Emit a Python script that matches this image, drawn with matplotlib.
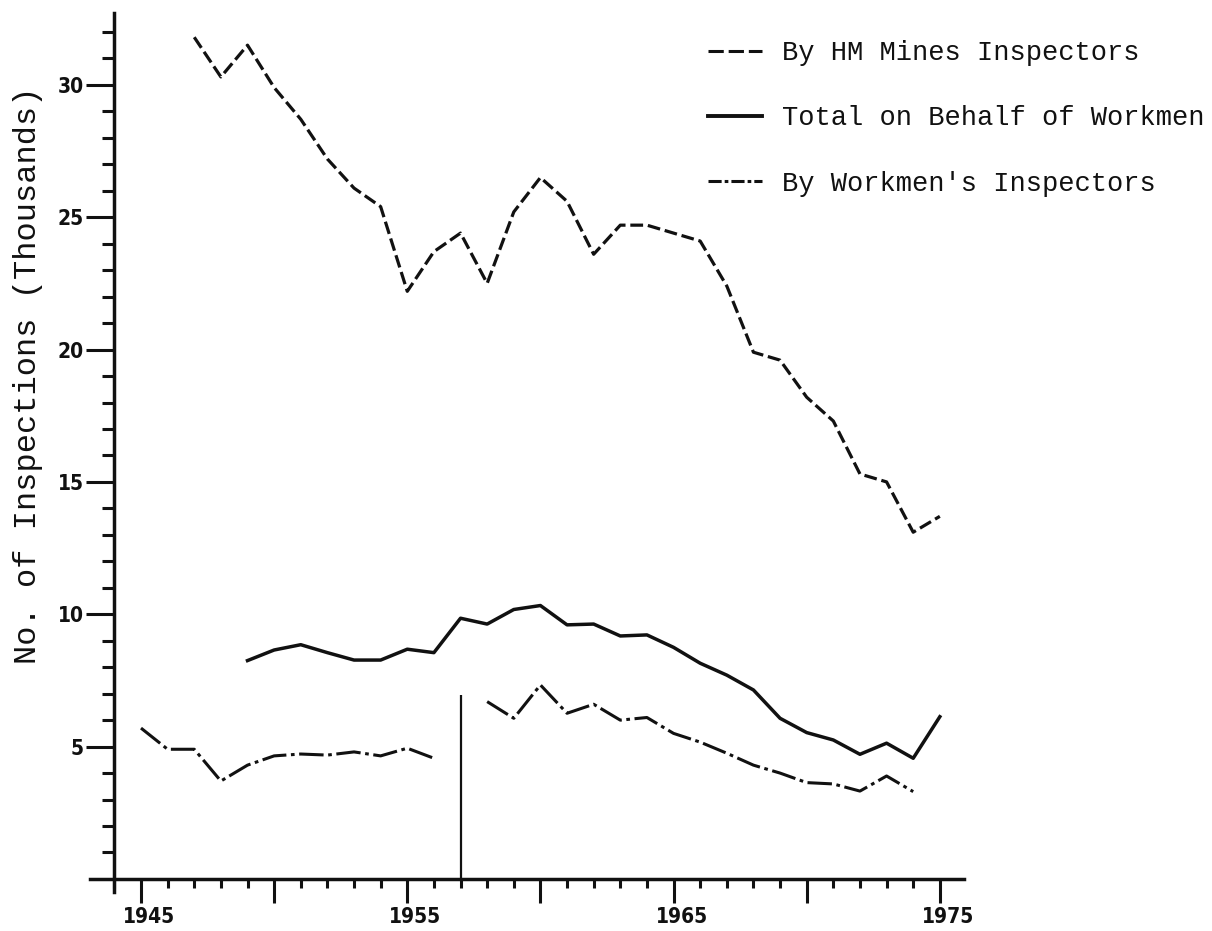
import matplotlib
matplotlib.use("Agg")
import numpy as np
import matplotlib.pyplot as plt
import matplotlib.transforms as mtransforms
from matplotlib.lines import Line2D
from matplotlib.ticker import FixedLocator, FuncFormatter
from matplotlib.font_manager import FontProperties

# Inspections of mines, thousands per year
years_hm = list(range(1947, 1976))
hm_inspectors = [31.8, 30.3, 31.5, 29.9, 28.7, 27.2, 26.1, 25.4, 22.2, 23.7,
                 24.4, 22.5, 25.2, 26.5, 25.6, 23.6, 24.7, 24.7, 24.4, 24.1,
                 22.4, 19.9, 19.6, 18.2, 17.3, 15.3, 15.0, 13.1, 13.7]

years_total = list(range(1949, 1976))
total_workmen = [8.25, 8.65, 8.85, 8.55, 8.27, 8.27, 8.68, 8.55, 9.85, 9.63,
                 10.18, 10.33, 9.6, 9.63, 9.18, 9.22, 8.75, 8.15, 7.7, 7.14,
                 6.07, 5.53, 5.25, 4.71, 5.13, 4.56, 6.13]

years_wi = list(range(1945, 1975))
workmens_inspectors = [5.7, 4.9, 4.9, 3.7, 4.3, 4.65, 4.72, 4.68, 4.8, 4.65,
                       4.94, 4.56, np.nan, 6.7, 6.07, 7.33, 6.26, 6.6, 6.0, 6.1,
                       5.5, 5.17, 4.75, 4.3, 4.0, 3.64, 3.59, 3.32, 3.89, 3.3]

break_year = 1957
break_top = 6.95

series_labels = ["By HM Mines Inspectors",
                 "Total on Behalf of Workmen",
                 "By Workmen's Inspectors"]
x_labelled = [1945, 1955, 1965, 1975]
y_label = "No. of Inspections (Thousands)"

ink = "#111111"
W, H = 1212, 931
fig = plt.figure(figsize=(W / 100, H / 100), dpi=100)
fig.patch.set_facecolor("white")
ax = fig.add_axes([90.4 / W, (H - 892.2) / H, 873.4 / W, 878.8 / H])
ax.set_xlim(1943.1, 1975.9)
ax.set_ylim(-0.5, 32.7)

for s in ("top", "right"):
    ax.spines[s].set_visible(False)
ax.spines["left"].set_position(("data", 1944))
ax.spines["bottom"].set_position(("data", 0))
for s in ("left", "bottom"):
    ax.spines[s].set_linewidth(2.5)
    ax.spines[s].set_color(ink)

# Series
ax.plot(years_hm, hm_inspectors, color=ink, lw=2.3, dashes=(4.0, 1.5),
        dash_capstyle="butt")
ax.plot(years_total, total_workmen, color=ink, lw=2.5)
ax.plot(years_wi, workmens_inspectors, color=ink, lw=2.2,
        dashes=(8, 1.5, 1.2, 1.5), dash_capstyle="butt")
ax.vlines(break_year, 0, break_top, color=ink, lw=1.6)

# Ticks
ax.xaxis.set_major_locator(FixedLocator(list(range(1945, 1976, 5))))
ax.xaxis.set_minor_locator(FixedLocator([y for y in range(1944, 1976) if y % 5]))
ax.yaxis.set_major_locator(FixedLocator(list(range(5, 31, 5))))
ax.yaxis.set_minor_locator(FixedLocator([v for v in range(1, 33) if v % 5]))
ax.xaxis.set_major_formatter(FuncFormatter(lambda v, p: f"{int(round(v))}" if int(round(v)) in x_labelled else ""))
ax.yaxis.set_major_formatter(FuncFormatter(lambda v, p: f"{int(round(v))}"))

ax.tick_params(axis="x", which="major", length=17, width=2.2, direction="out",
               pad=3, color=ink)
ax.tick_params(axis="x", which="minor", length=6.5, width=2.2, direction="out",
               color=ink)
ax.tick_params(axis="y", which="major", length=20, width=2.2, direction="out",
               pad=2, color=ink)
ax.tick_params(axis="y", which="minor", length=9, width=2.2, direction="out",
               color=ink)

tick_font = dict(family="DejaVu Sans", weight="heavy", stretch="condensed",
                 size=15)
shift = mtransforms.ScaledTranslation(8 / 100, 0, fig.dpi_scale_trans)
for lab in ax.get_xticklabels():
    lab.set(**tick_font, color=ink)
    lab.set_transform(lab.get_transform() + shift)
for lab in ax.get_yticklabels():
    lab.set(**tick_font, color=ink)

# Axis title
fig.text(28 / W, 1 - 375 / H, y_label, rotation=90, ha="center", va="center",
         family="Liberation Mono", size=23, color=ink)

# Legend
handles = [
    Line2D([], [], color=ink, lw=2.2, dashes=(5, 1.6), dash_capstyle="butt"),
    Line2D([], [], color=ink, lw=2.8),
    Line2D([], [], color=ink, lw=2.2, dashes=(4.3, 1, 1.2, 1),
           dash_capstyle="butt"),
]
ax.legend(handles, series_labels, loc="upper left",
          bbox_to_anchor=(708 / W, 1 - 40 / H), bbox_transform=fig.transFigure,
          frameon=False, borderpad=0, borderaxespad=0, handlelength=2.0,
          handletextpad=0.72, labelspacing=1.45,
          prop=FontProperties(family="Liberation Mono", size=19.5),
          labelcolor=ink)

fig.savefig("out.png", dpi=100, facecolor="white")
